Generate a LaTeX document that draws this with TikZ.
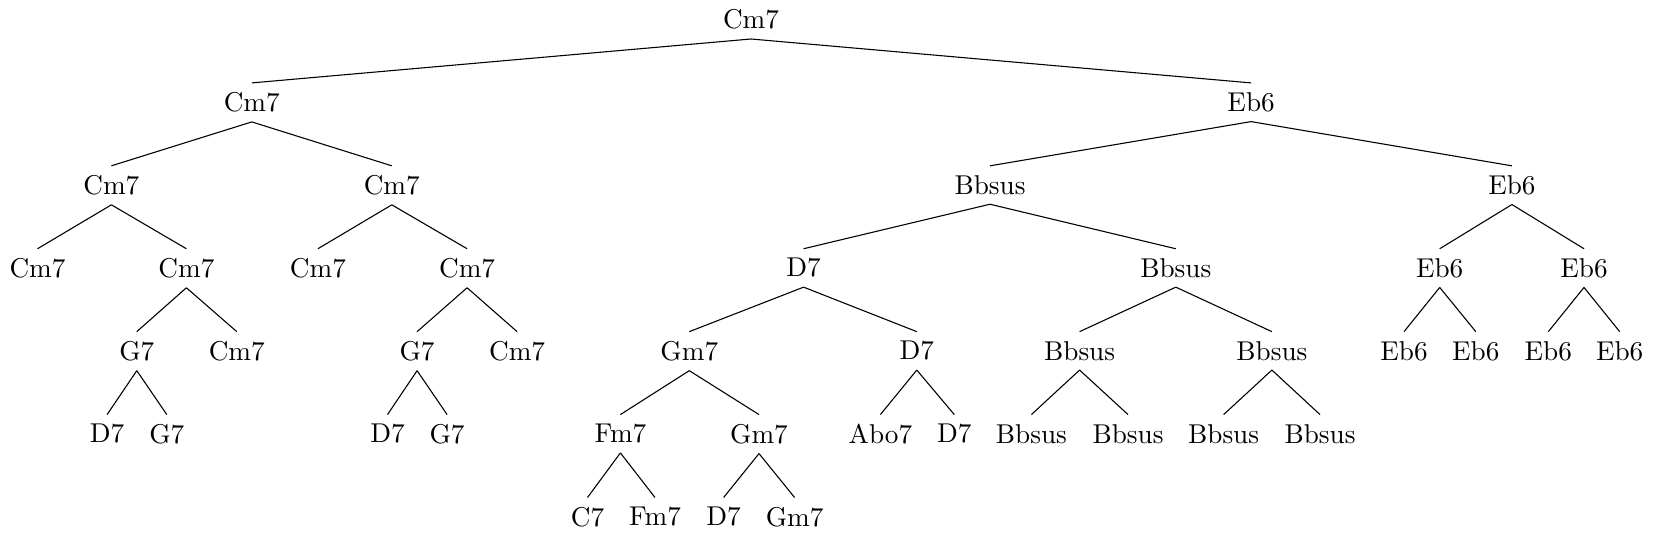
\documentclass[tikz,border=0pt]{standalone}
\begin{document}
\begin{tikzpicture}[x=0.3676pt, y=-30.48pt, chord/.style={anchor=north}]
    \useasboundingbox (0,0) rectangle (1654,6.453);

    % level 0 and 1
    \node[chord] (r) at (751,0) {Cm7};
    \node[chord] (a) at (251.8,1) {Cm7};
    \node[chord] (b) at (1251.1,1) {Eb6};

    % level 2
    \node[chord] (aa) at (111.4,2) {Cm7};
    \node[chord] (ab) at (391.8,2) {Cm7};
    \node[chord] (ba) at (990,2) {Bbsus};
    \node[chord] (bb) at (1511.9,2) {Eb6};

    % level 3
    \node[chord] (aaa) at (37.5,3) {Cm7};
    \node[chord] (aab) at (186.4,3) {Cm7};
    \node[chord] (aba) at (317.9,3) {Cm7};
    \node[chord] (abb) at (467.1,3) {Cm7};
    \node[chord] (baa) at (803.6,3) {D7};
    \node[chord] (bab) at (1175.8,3) {Bbsus};
    \node[chord] (bba) at (1439.7,3) {Eb6};
    \node[chord] (bbb) at (1584,3) {Eb6};

    % level 4
    \node[chord] (aaba) at (136.8,4) {G7};
    \node[chord] (aabb) at (236.8,4) {Cm7};
    \node[chord] (abba) at (417.1,4) {G7};
    \node[chord] (abbb) at (517.1,4) {Cm7};
    \node[chord] (baaa) at (689.3,4) {Gm7};
    \node[chord] (baab) at (916.8,4) {D7};
    \node[chord] (baba) at (1079.6,4) {Bbsus};
    \node[chord] (babb) at (1271.9,4) {Bbsus};
    \node[chord] (bbaa) at (1404,4) {Eb6};
    \node[chord] (bbab) at (1475.8,4) {Eb6};
    \node[chord] (bbba) at (1548.3,4) {Eb6};
    \node[chord] (bbbb) at (1619.7,4) {Eb6};

    % level 5
    \node[chord] (aabaa) at (107.1,5) {D7};
    \node[chord] (aabab) at (166.8,5) {G7};
    \node[chord] (abbaa) at (387.5,5) {D7};
    \node[chord] (abbab) at (447.1,5) {G7};
    \node[chord] (baaaa) at (620.4,5) {Fm7};
    \node[chord] (baaab) at (759,5) {Gm7};
    \node[chord] (baaba) at (880.4,5) {Abo7};
    \node[chord] (baabb) at (954.3,5) {D7};
    \node[chord] (babaa) at (1031.4,5) {Bbsus};
    \node[chord] (babab) at (1128,5) {Bbsus};
    \node[chord] (babba) at (1223.6,5) {Bbsus};
    \node[chord] (babbb) at (1320,5) {Bbsus};

    % level 6
    \node[chord] (baaaaa) at (587.5,6) {C7};
    \node[chord] (baaaab) at (655,6) {Fm7};
    \node[chord] (baaaba) at (723.6,6) {D7};
    \node[chord] (baaabb) at (794.6,6) {Gm7};

    \foreach \p/\c in {r/a, r/b, a/aa, a/ab, b/ba, b/bb,
        aa/aaa, aa/aab, ab/aba, ab/abb, ba/baa, ba/bab, bb/bba, bb/bbb,
        aab/aaba, aab/aabb, abb/abba, abb/abbb, baa/baaa, baa/baab,
        bab/baba, bab/babb, bba/bbaa, bba/bbab, bbb/bbba, bbb/bbbb,
        aaba/aabaa, aaba/aabab, abba/abbaa, abba/abbab, baaa/baaaa, baaa/baaab,
        baab/baaba, baab/baabb, baba/babaa, baba/babab, babb/babba, babb/babbb,
        baaaa/baaaaa, baaaa/baaaab, baaab/baaaba, baaab/baaabb}
        \draw (\p.south) -- (\c.north);
\end{tikzpicture}
\end{document}
